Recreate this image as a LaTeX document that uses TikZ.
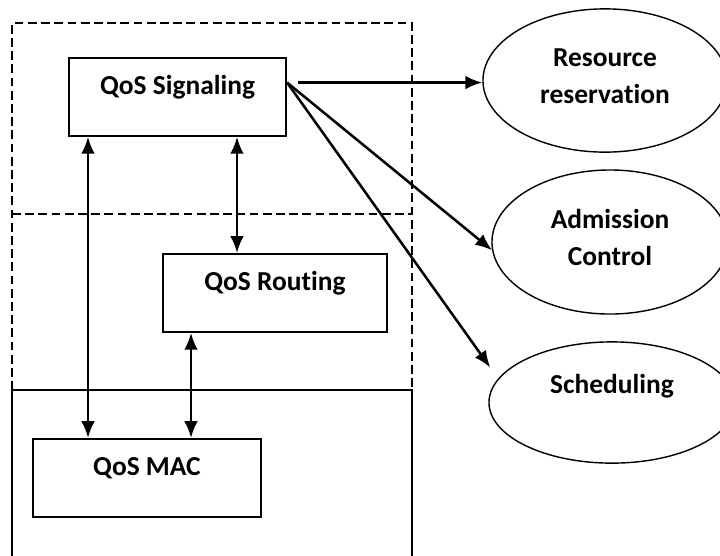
\documentclass[tikz,border=0pt]{standalone}
\usepackage{fontspec}
\setmainfont{Carlito}[Ligatures=NoCommon]
\usetikzlibrary{arrows.meta, shapes.geometric, calc}
\newcommand{\qosArrow}{{Latex[length=4.2mm, width=3.4mm]}}

\begin{document}
\begin{tikzpicture}[x=0.025cm, y=-0.025cm, font=\bfseries\fontsize{19.5}{26.3}\selectfont,
	block/.style={draw, line width=1.3pt, inner sep=0pt, text height=0.925cm, text depth=1.025cm, anchor=north west},
	oval/.style={draw, ellipse, line width=1pt, inner sep=0pt, align=center},
	layer/.style={line width=1.1pt, dash pattern=on 0.22cm off 0.11cm},
	link/.style={line width=1.8pt, -\qosArrow},
	dbl/.style={line width=1.8pt, \qosArrow-\qosArrow}]
	\useasboundingbox (0,0) rectangle (720,555);

	\coordinate (TL) at (12,23);
	\coordinate (TR) at (412,23);
	\coordinate (ML) at (12,214);
	\coordinate (MR) at (412,214);
	\coordinate (LL) at (12,390);
	\coordinate (LR) at (412,390);
	\coordinate (BL) at (12,556);
	\coordinate (BR) at (412,556);

	% layers
	\draw[layer]			(LL) -- (TL) -- (TR) -- (LR);
	\draw[layer]			(ML) -- (MR);
	\draw[line width=1.1pt]	(BL) -- (LL) -- (LR) -- (BR);

	% blocks
	\node[block, minimum width=5.43cm] (sig) at (68,57) {QoS Signaling};
	\node[block, minimum width=5.6cm] (rout) at (162,253) {QoS Routing};
	\node[block, minimum width=5.7cm] (mac) at (32,438) {QoS MAC};

	% functions
	\node[oval, minimum width=6.1cm, minimum height=3.58cm, text depth=0.24cm] (res) at (605,80.5) {Resource\\reservation};
	\node[oval, minimum width=5.9cm, minimum height=3.6cm, text depth=0.24cm] (adm) at (610,242) {Admission\\Control};
	\node[oval, minimum width=6.15cm, minimum height=3.03cm, text height=0.5cm, text depth=0.975cm] (sch) at (612,402.5) {Scheduling};

	\coordinate (fan) at ($(sig.north east)!0.32!(sig.south east)$);
	\draw[link]	($(fan)+(11,0)$) -- (fan -| res.west);
	\draw[link]	(fan) -- (adm.184);
	\draw[link]	(fan) -- ($(sch.west)+(2,-35)$);

	\coordinate (u1) at (88,0);
	\coordinate (u2) at (237,0);
	\coordinate (u3) at (191,0);
	\foreach \from/\to/\col in {sig/mac/u1, sig/rout/u2, rout/mac/u3} {
		\draw[dbl]	(\from.south -| \col) -- (\to.north -| \col);
	}

\end{tikzpicture}
\end{document}
